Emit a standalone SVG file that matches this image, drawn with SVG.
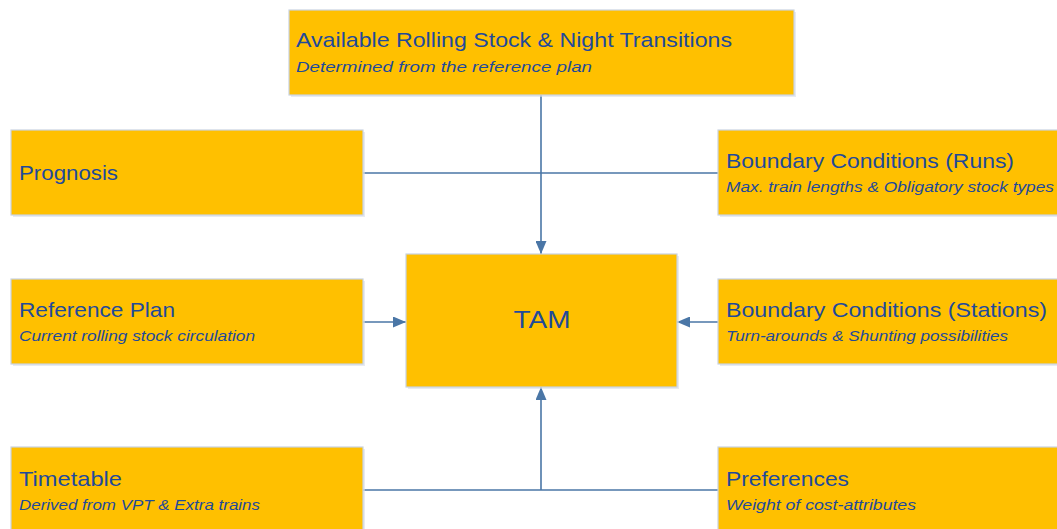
<svg xmlns="http://www.w3.org/2000/svg" width="1057" height="529" viewBox="0 0 1057 529">
<style>
.box{fill:#FFC000;stroke:#C9D3E2;stroke-width:1.2}
.sh{fill:#D9DEE6;opacity:0.6}
.t{font-family:"Liberation Sans",Arial,sans-serif;font-size:21px;fill:#1F4A9A}
.s{font-family:"Liberation Sans",Arial,sans-serif;font-size:15px;font-style:italic;fill:#1F4A9A}
.big{font-family:"Liberation Sans",Arial,sans-serif;font-size:23px;fill:#1F4A9A}
.c{stroke:#4A76A6;stroke-width:1.6;fill:none}
</style>
<defs>
<marker id="ah" viewBox="0 0 13 11" refX="13" refY="5.5" markerWidth="13" markerHeight="11" markerUnits="userSpaceOnUse" orient="auto">
<path d="M0,0 L13,5.5 L0,11 z" fill="#4A76A6"/>
</marker>
</defs>
<g id="connectors">
<line class="c" x1="541" y1="95" x2="541" y2="254" marker-end="url(#ah)"/>
<line class="c" x1="363" y1="173" x2="718" y2="173"/>
<line class="c" x1="363" y1="322" x2="406" y2="322" marker-end="url(#ah)"/>
<line class="c" x1="718" y1="322" x2="677" y2="322" marker-end="url(#ah)"/>
<line class="c" x1="363" y1="490" x2="718" y2="490"/>
<line class="c" x1="541" y1="490" x2="541" y2="387" marker-end="url(#ah)"/>
</g>
<g id="top">
<rect class="sh" x="291" y="12" width="505" height="85"/>
<rect class="box" x="289" y="10" width="505" height="85"/>
<text class="t" x="296" y="47" textLength="436" lengthAdjust="spacingAndGlyphs">Available Rolling Stock &amp; Night Transitions</text>
<text class="s" x="296" y="72" textLength="296" lengthAdjust="spacingAndGlyphs">Determined from the reference plan</text>
</g>
<g id="prognosis">
<rect class="sh" x="13" y="132" width="352" height="85"/>
<rect class="box" x="11" y="130" width="352" height="85"/>
<text class="t" x="19" y="180" textLength="99" lengthAdjust="spacingAndGlyphs">Prognosis</text>
</g>
<g id="bc-runs">
<rect class="sh" x="720" y="132" width="345" height="85"/>
<rect class="box" x="718" y="130" width="345" height="85"/>
<text class="t" x="726" y="168" textLength="288" lengthAdjust="spacingAndGlyphs">Boundary Conditions (Runs)</text>
<text class="s" x="726" y="192" textLength="328" lengthAdjust="spacingAndGlyphs">Max. train lengths &amp; Obligatory stock types</text>
</g>
<g id="reference-plan">
<rect class="sh" x="13" y="281" width="352" height="85"/>
<rect class="box" x="11" y="279" width="352" height="85"/>
<text class="t" x="19" y="317" textLength="156" lengthAdjust="spacingAndGlyphs">Reference Plan</text>
<text class="s" x="19" y="341" textLength="236" lengthAdjust="spacingAndGlyphs">Current rolling stock circulation</text>
</g>
<g id="tam">
<rect class="sh" x="408" y="256" width="271" height="133"/>
<rect class="box" x="406" y="254" width="271" height="133"/>
<text class="big" x="542" y="328" text-anchor="middle" textLength="57" lengthAdjust="spacingAndGlyphs">TAM</text>
</g>
<g id="bc-stations">
<rect class="sh" x="720" y="281" width="345" height="85"/>
<rect class="box" x="718" y="279" width="345" height="85"/>
<text class="t" x="726" y="317" textLength="321" lengthAdjust="spacingAndGlyphs">Boundary Conditions (Stations)</text>
<text class="s" x="726" y="341" textLength="282" lengthAdjust="spacingAndGlyphs">Turn-arounds &amp; Shunting possibilities</text>
</g>
<g id="timetable">
<rect class="sh" x="13" y="449" width="352" height="85"/>
<rect class="box" x="11" y="447" width="352" height="85"/>
<text class="t" x="19" y="486" textLength="103" lengthAdjust="spacingAndGlyphs">Timetable</text>
<text class="s" x="19" y="510" textLength="241" lengthAdjust="spacingAndGlyphs">Derived from VPT &amp; Extra trains</text>
</g>
<g id="preferences">
<rect class="sh" x="720" y="449" width="345" height="85"/>
<rect class="box" x="718" y="447" width="345" height="85"/>
<text class="t" x="726" y="486" textLength="123" lengthAdjust="spacingAndGlyphs">Preferences</text>
<text class="s" x="726" y="510" textLength="190" lengthAdjust="spacingAndGlyphs">Weight of cost-attributes</text>
</g>
</svg>
